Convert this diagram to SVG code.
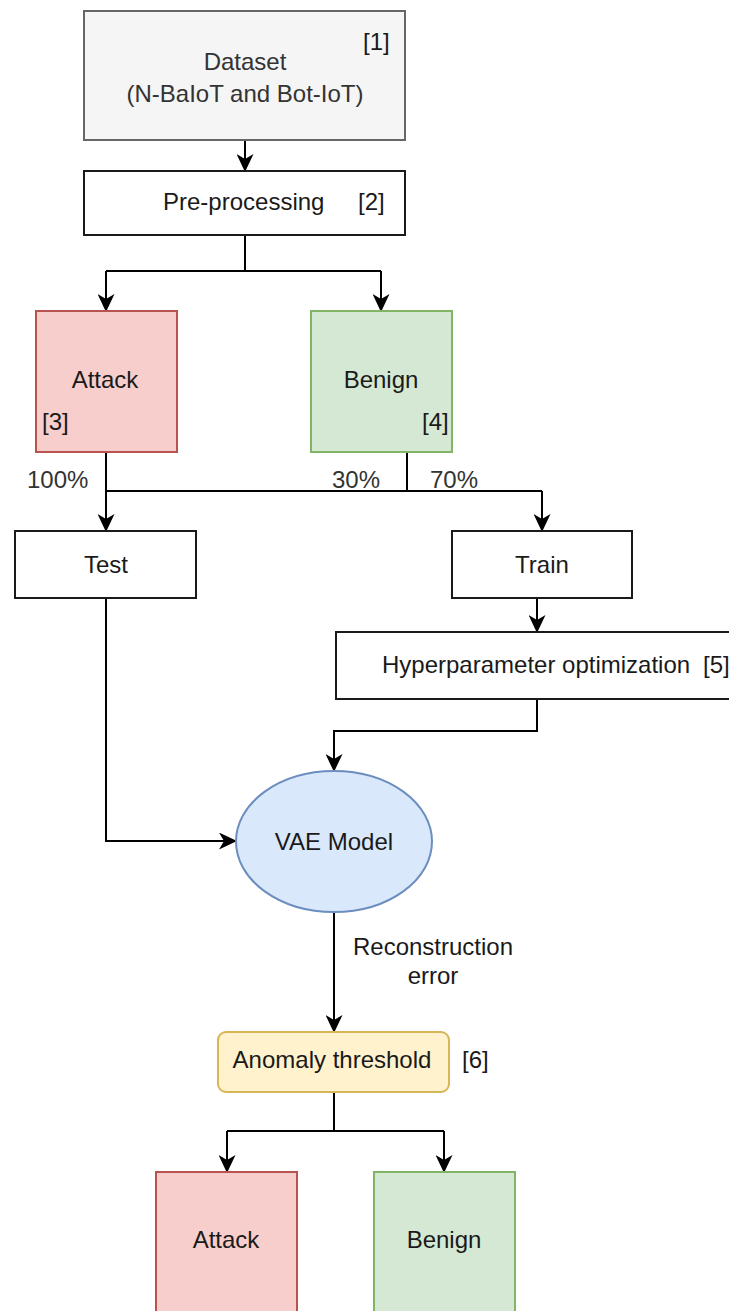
<svg xmlns="http://www.w3.org/2000/svg" width="729" height="1311" viewBox="0 0 729 1311">
<style>
text{font-family:"Liberation Sans",Arial,sans-serif;font-size:24px;fill:#1a1a1a}
.c{text-anchor:middle}
.g{fill:#333333}
.box{fill:#ffffff;stroke:#1a1a1a;stroke-width:2}
.gray{fill:#f5f5f5;stroke:#666666;stroke-width:2}
.red{fill:#f8cecc;stroke:#b85450;stroke-width:2}
.green{fill:#d5e8d4;stroke:#82b366;stroke-width:2}
.blue{fill:#dae8fc;stroke:#6c8ebf;stroke-width:2}
.yellow{fill:#fff2cc;stroke:#d6b656;stroke-width:2}
.e{fill:none;stroke:#000;stroke-width:2}
.ea{fill:none;stroke:#000;stroke-width:2;marker-end:url(#arr)}
</style>
<defs>
<marker id="arr" viewBox="0 0 18 17" refX="17" refY="8.5" markerWidth="18" markerHeight="17" markerUnits="userSpaceOnUse" orient="auto">
<path d="M0,0 L18,8.5 L0,17 L5,8.5 Z" fill="#000"/>
</marker>
</defs>
<g id="connectors">
<path class="ea" d="M245,140 V171"/>
<path class="e" d="M245,235 V271 M106,271 H381"/>
<path class="ea" d="M106,271 V311"/>
<path class="ea" d="M381,271 V311"/>
<path class="e" d="M106,452 V491 M407,452 V491 M106,491 H542"/>
<path class="ea" d="M106,491 V531"/>
<path class="ea" d="M542,491 V531"/>
<path class="ea" d="M537,598 V632"/>
<path class="ea" d="M537,699 V731 H334 V771"/>
<path class="ea" d="M106,598 V841 H236"/>
<path class="ea" d="M334,912 V1032"/>
<path class="e" d="M334,1092 V1131 M227,1131 H444"/>
<path class="ea" d="M227,1131 V1172"/>
<path class="ea" d="M444,1131 V1172"/>
<text class="g" x="27" y="488">100%</text>
<text class="g" x="332" y="488">30%</text>
<text class="g" x="430" y="488">70%</text>
<text class="c" x="433" y="955">Reconstruction</text>
<text class="c" x="433" y="984">error</text>
</g>
<g id="dataset">
<rect class="gray" x="84" y="11" width="321" height="129"/>
<text class="c g" x="245" y="70">Dataset</text>
<text class="c g" x="245" y="102">(N-BaIoT and Bot-IoT)</text>
<text x="363" y="50">[1]</text>
</g>
<g id="preprocessing">
<rect class="box" x="84" y="171" width="321" height="64"/>
<text x="163" y="210">Pre-processing</text>
<text x="358" y="210">[2]</text>
</g>
<g id="attack1">
<rect class="red" x="36" y="311" width="141" height="141"/>
<text class="c" x="105" y="388">Attack</text>
<text x="42" y="430">[3]</text>
</g>
<g id="benign1">
<rect class="green" x="311" y="311" width="141" height="141"/>
<text class="c" x="381" y="388">Benign</text>
<text x="422" y="430">[4]</text>
</g>
<g id="test">
<rect class="box" x="15" y="531" width="181" height="67"/>
<text class="c" x="106" y="573">Test</text>
</g>
<g id="train">
<rect class="box" x="452" y="531" width="180" height="67"/>
<text class="c" x="542" y="573">Train</text>
</g>
<g id="hyper">
<rect class="box" x="336" y="632" width="400" height="67"/>
<text x="382" y="673">Hyperparameter optimization</text>
<text x="703" y="673">[5]</text>
</g>
<g id="vae">
<ellipse class="blue" cx="334" cy="841.5" rx="98" ry="70.5"/>
<text class="c" x="334" y="850">VAE Model</text>
</g>
<g id="threshold">
<rect class="yellow" x="218" y="1032" width="231" height="60" rx="8"/>
<text class="c" x="332" y="1068">Anomaly threshold</text>
<text x="462" y="1068">[6]</text>
</g>
<g id="attack2">
<rect class="red" x="156" y="1172" width="141" height="150"/>
<text class="c" x="226" y="1248">Attack</text>
</g>
<g id="benign2">
<rect class="green" x="374" y="1172" width="141" height="150"/>
<text class="c" x="444" y="1248">Benign</text>
</g>
</svg>
